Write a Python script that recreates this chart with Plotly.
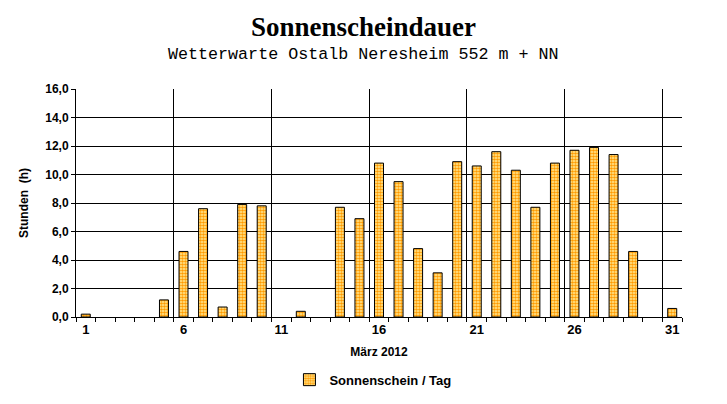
import plotly.graph_objects as go

days = list(range(1, 32))
sunshine = [0.2, 0, 0, 0, 1.2, 4.6, 7.6, 0.7, 7.9, 7.8,
            0, 0.4, 0, 7.7, 6.9, 10.8, 9.5, 4.8, 3.1, 10.9,
            10.6, 11.6, 10.3, 7.7, 10.8, 11.7, 11.9, 11.4, 4.6, 0, 0.6]
x_tick_vals = [1, 6, 11, 16, 21, 26, 31]
x_grid_vals = [5.5, 10.5, 15.5, 20.5, 25.5, 30.5]
y_tick_vals = [0, 2, 4, 6, 8, 10, 12, 14, 16]
y_tick_text = ["0,0", "2,0", "4,0", "6,0", "8,0", "10,0", "12,0", "14,0", "16,0"]

bold = dict(family="Liberation Sans", size=12, color="black")

fig = go.Figure()
fig.add_trace(go.Bar(
    x=days, y=[v if v > 0 else None for v in sunshine],
    name="<b>Sonnenschein / Tag</b>", width=0.46,
    marker=dict(color="#FFD27A", line=dict(color="black", width=1),
                pattern=dict(shape=".", size=3, solidity=0.6,
                             fgcolor="#FF9A00", bgcolor="#FFF0A0", fillmode="replace")),
    showlegend=True,
))
# invisible trace on overlay axis for vertical grid lines
fig.add_trace(go.Scatter(x=[0.5, 31.5], y=[0, 0], xaxis="x2", mode="lines",
                         line=dict(width=0), hoverinfo="skip", showlegend=False))

# page body has an 8px default margin -> figure is 719x396 placed at (8,8)
fig.update_layout(
    width=719, height=396,
    margin=dict(l=68, r=45, t=81, b=87, autoexpand=False),
    paper_bgcolor="white", plot_bgcolor="white",
    font=dict(family="Liberation Sans", size=12, color="black"),
    xaxis=dict(range=[0.5, 31.5], tickvals=x_tick_vals, ticktext=["<b>%d</b>" % v for v in x_tick_vals],
               ticks="", showgrid=False, zeroline=False, automargin=False,
               showline=True, linecolor="black", linewidth=1,
               tickfont=dict(family="Liberation Sans", size=13, color="black"),
               minor=dict(tick0=0.5, dtick=1, ticks="outside", ticklen=4, tickcolor="black", showgrid=False),
               title=dict(text="<b>März 2012</b>", font=bold, standoff=12)),
    xaxis2=dict(range=[0.5, 31.5], overlaying="x", tickvals=x_grid_vals, showticklabels=False,
                showgrid=True, gridcolor="black", gridwidth=1, ticks="", zeroline=False, showline=False),
    yaxis=dict(range=[0, 16], tickvals=y_tick_vals, ticktext=["<b>%s</b>" % t for t in y_tick_text],
               showgrid=True, gridcolor="black", gridwidth=1, zeroline=False, automargin=False,
               showline=True, linecolor="black", linewidth=1,
               ticks="outside", ticklen=4, tickcolor="black",
               tickfont=bold,
               title=dict(text="<b>Stunden  (h)</b>", font=bold, standoff=14)),
    legend=dict(orientation="h", x=0.49, xanchor="center", y=-0.275, yanchor="middle",
                font=dict(family="Liberation Sans", size=13, color="black")),
)
title_x = (363 - 76) / 606
fig.add_annotation(text="<b>Sonnenscheindauer</b>", xref="paper", yref="paper",
                   x=title_x, y=1 + (89 - 27) / 228, yanchor="middle", showarrow=False,
                   font=dict(family="Liberation Serif", size=27, color="black"))
fig.add_annotation(text="Wetterwarte Ostalb Neresheim 552 m + NN", xref="paper", yref="paper",
                   x=title_x, y=1 + (89 - 55) / 228, yanchor="middle", showarrow=False,
                   font=dict(family="Liberation Mono", size=16.7, color="black"))

fig.write_html("out.html")
